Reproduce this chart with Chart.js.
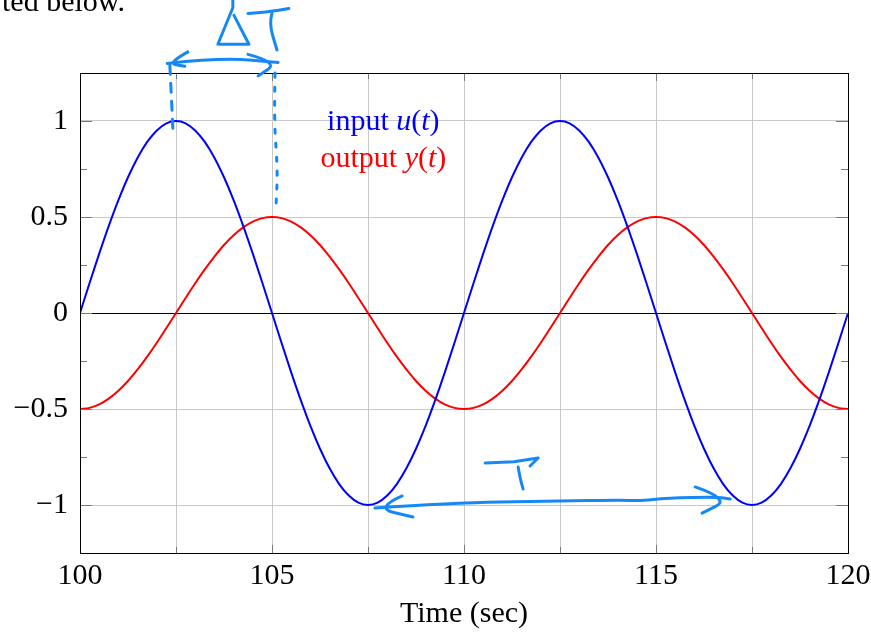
<!DOCTYPE html>
<html>
<head>
<meta charset="utf-8">
<script src="https://cdn.jsdelivr.net/npm/chart.js@4.4.1/dist/chart.umd.min.js"></script>
<style>
  html, body { margin: 0; padding: 0; background: #fff; }
  #wrap { width: 871px; height: 632px; }
</style>
</head>
<body>
<div id="wrap"><canvas id="c" width="871" height="632"></canvas></div>
<script>
// valores (cada 0.25 s)
const time = [100, 100.25, 100.5, 100.75, 101, 101.25, 101.5, 101.75, 102, 102.25,
              102.5, 102.75, 103, 103.25, 103.5, 103.75, 104, 104.25, 104.5, 104.75,
              105, 105.25, 105.5, 105.75, 106, 106.25, 106.5, 106.75, 107, 107.25,
              107.5, 107.75, 108, 108.25, 108.5, 108.75, 109, 109.25, 109.5, 109.75,
              110, 110.25, 110.5, 110.75, 111, 111.25, 111.5, 111.75, 112, 112.25,
              112.5, 112.75, 113, 113.25, 113.5, 113.75, 114, 114.25, 114.5, 114.75,
              115, 115.25, 115.5, 115.75, 116, 116.25, 116.5, 116.75, 117, 117.25,
              117.5, 117.75, 118, 118.25, 118.5, 118.75, 119, 119.25, 119.5, 119.75, 120];
const inputU = [0, 0.156, 0.309, 0.454, 0.588, 0.707, 0.809, 0.891, 0.951, 0.988,
                1, 0.988, 0.951, 0.891, 0.809, 0.707, 0.588, 0.454, 0.309, 0.156,
                0, -0.156, -0.309, -0.454, -0.588, -0.707, -0.809, -0.891, -0.951, -0.988,
                -1, -0.988, -0.951, -0.891, -0.809, -0.707, -0.588, -0.454, -0.309, -0.156,
                0, 0.156, 0.309, 0.454, 0.588, 0.707, 0.809, 0.891, 0.951, 0.988,
                1, 0.988, 0.951, 0.891, 0.809, 0.707, 0.588, 0.454, 0.309, 0.156,
                0, -0.156, -0.309, -0.454, -0.588, -0.707, -0.809, -0.891, -0.951, -0.988,
                -1, -0.988, -0.951, -0.891, -0.809, -0.707, -0.588, -0.454, -0.309, -0.156, 0];
const outputY = [-0.5, -0.494, -0.476, -0.446, -0.405, -0.354, -0.294, -0.227, -0.155, -0.078,
                 0, 0.078, 0.155, 0.227, 0.294, 0.354, 0.405, 0.446, 0.476, 0.494,
                 0.5, 0.494, 0.476, 0.446, 0.405, 0.354, 0.294, 0.227, 0.155, 0.078,
                 0, -0.078, -0.155, -0.227, -0.294, -0.354, -0.405, -0.446, -0.476, -0.494,
                 -0.5, -0.494, -0.476, -0.446, -0.405, -0.354, -0.294, -0.227, -0.155, -0.078,
                 0, 0.078, 0.155, 0.227, 0.294, 0.354, 0.405, 0.446, 0.476, 0.494,
                 0.5, 0.494, 0.476, 0.446, 0.405, 0.354, 0.294, 0.227, 0.155, 0.078,
                 0, -0.078, -0.155, -0.227, -0.294, -0.354, -0.405, -0.446, -0.476, -0.494, -0.5];
const xTickLabels = [100, 105, 110, 115, 120];
const yTickLabels = [-1, -0.5, 0, 0.5, 1];

// trazos a mano (en coordenadas de datos: tiempo, valor)
const handStrokes = [
  // flecha doble arriba (ΔT)
  { pts: [[102.27, 1.3], [103.65, 1.33], [105.16, 1.305]] },
  { pts: [[102.81, 1.36], [102.27, 1.3], [102.73, 1.285]] },
  { pts: [[104.375, 1.347], [105.16, 1.305], [104.64, 1.235]] },
  { pts: [[102.34, 1.29], [102.42, 0.953]], dash: [9, 9] },
  { pts: [[105.08, 1.25], [105.05, 1.0], [105.15, 0.75], [105.1, 0.536]], dash: [4, 10] },
  // Δ
  { pts: [[103.98, 1.63], [103.98, 1.59], [103.59, 1.4], [104.40, 1.4], [104.01, 1.55]], sharp: true },
  // T arriba
  { pts: [[104.375, 1.56], [104.9, 1.568], [105.44, 1.586]] },
  { pts: [[105.0, 1.56], [104.92, 1.51], [105.13, 1.37]] },
  // T abajo
  { pts: [[110.55, -0.781], [111.3, -0.775], [111.93, -0.755], [111.72, -0.797]], sharp: true },
  { pts: [[111.41, -0.802], [111.46, -0.86], [111.54, -0.917]] },
  // flecha doble abajo (T)
  { pts: [[107.68, -1.016], [109.64, -0.99], [112.24, -0.979], [114.24, -0.974],
          [114.58, -0.979], [115.29, -0.964], [116.59, -0.958], [116.93, -0.969]] },
  { pts: [[108.39, -0.953], [107.68, -1.016], [108.67, -1.0625]] },
  { pts: [[116.02, -0.906], [116.93, -0.969], [116.2, -1.042]] }
];

const serif = "'Liberation Serif', 'DejaVu Serif', serif";
const fontSize = 30;

function isOn(v, step) {
  return Math.abs(v / step - Math.round(v / step)) < 1e-6;
}

const pgfFrame = {
  id: 'pgfFrame',
  afterDraw(chart) {
    const { ctx, chartArea: a, scales: { x, y } } = chart;
    ctx.save();
    // marcas internas
    ctx.strokeStyle = '#7a7a7a';
    ctx.lineWidth = 1;
    x.ticks.forEach(t => {
      const px = Math.round(x.getPixelForValue(t.value)) + 0.5;
      const len = isOn(t.value, 5) ? 8 : 6;
      ctx.beginPath();
      ctx.moveTo(px, a.bottom); ctx.lineTo(px, a.bottom - len);
      ctx.moveTo(px, a.top); ctx.lineTo(px, a.top + len);
      ctx.stroke();
    });
    y.ticks.forEach(t => {
      const py = Math.round(y.getPixelForValue(t.value)) + 0.5;
      const len = isOn(t.value, 0.5) ? 12 : 7;
      ctx.beginPath();
      ctx.moveTo(a.left, py); ctx.lineTo(a.left + len, py);
      ctx.moveTo(a.right, py); ctx.lineTo(a.right - len, py);
      ctx.stroke();
    });
    // marco
    ctx.strokeStyle = '#000';
    ctx.strokeRect(Math.round(a.left) + 0.5, Math.round(a.top) + 0.5,
                   Math.round(a.right - a.left), Math.round(a.bottom - a.top));

    // leyenda sin caja
    const drawParts = (parts, cx, baseline, color) => {
      let w = 0;
      parts.forEach(p => {
        ctx.font = (p[1] ? 'italic ' : '') + fontSize + 'px ' + serif;
        w += ctx.measureText(p[0]).width;
      });
      let px = cx - w / 2;
      ctx.fillStyle = color;
      ctx.textBaseline = 'alphabetic';
      ctx.textAlign = 'left';
      parts.forEach(p => {
        ctx.font = (p[1] ? 'italic ' : '') + fontSize + 'px ' + serif;
        ctx.fillText(p[0], px, baseline);
        px += ctx.measureText(p[0]).width;
      });
    };
    const lx = x.getPixelForValue(107.9);
    drawParts([['input ', false], ['u', true], ['(', false], ['t', true], [')', false]],
              lx, y.getPixelForValue(0.955), '#0000ff');
    drawParts([['output ', false], ['y', true], ['(', false], ['t', true], [')', false]],
              lx, y.getPixelForValue(0.76), '#ff0000');

    // texto del documento cortado arriba
    ctx.fillStyle = '#000';
    ctx.font = fontSize + 'px ' + serif;
    ctx.fillText('ted below.', 2, 11);

    // anotaciones a mano
    ctx.strokeStyle = 'rgb(22, 136, 245)';
    ctx.lineWidth = 3;
    ctx.lineCap = 'round';
    ctx.lineJoin = 'round';
    handStrokes.forEach(s => {
      const p = s.pts.map(q => [x.getPixelForValue(q[0]), y.getPixelForValue(q[1])]);
      ctx.setLineDash(s.dash || []);
      ctx.beginPath();
      ctx.moveTo(p[0][0], p[0][1]);
      if (s.sharp || p.length < 3) {
        for (let i = 1; i < p.length; i++) ctx.lineTo(p[i][0], p[i][1]);
      } else {
        for (let i = 1; i < p.length - 1; i++) {
          const mx = (p[i][0] + p[i + 1][0]) / 2, my = (p[i][1] + p[i + 1][1]) / 2;
          ctx.quadraticCurveTo(p[i][0], p[i][1], mx, my);
        }
        const l = p[p.length - 1];
        ctx.lineTo(l[0], l[1]);
      }
      ctx.stroke();
    });
    ctx.restore();
  }
};

const ctx = document.getElementById('c').getContext('2d');
new Chart(ctx, {
  type: 'line',
  data: {
    datasets: [
      {
        label: 'input u(t)',
        data: time.map((t, i) => ({ x: t, y: inputU[i] })),
        borderColor: '#0000ff',
        borderWidth: 2,
        pointRadius: 0,
        tension: 0.3
      },
      {
        label: 'output y(t)',
        data: time.map((t, i) => ({ x: t, y: outputY[i] })),
        borderColor: '#ff0000',
        borderWidth: 2,
        pointRadius: 0,
        tension: 0.3
      }
    ]
  },
  options: {
    responsive: false,
    animation: false,
    devicePixelRatio: 1,
    layout: { padding: { top: 73, right: 23, left: 0, bottom: 0 } },
    plugins: { legend: { display: false }, tooltip: { enabled: false } },
    scales: {
      x: {
        type: 'linear',
        min: 100,
        max: 120,
        afterFit: s => { s.height = 79; s.paddingLeft = 0; s.paddingRight = 0; },
        ticks: {
          stepSize: 2.5,
          autoSkip: false,
          maxRotation: 0,
          padding: 5,
          color: '#000',
          font: { family: serif, size: fontSize },
          callback: v => xTickLabels.includes(v) ? String(v) : ''
        },
        grid: {
          drawTicks: false,
          color: c => (c.tick && (c.tick.value === 100 || c.tick.value === 120)) ? 'rgba(0,0,0,0)' : '#c8c8c8'
        },
        border: { color: '#000' },
        title: {
          display: true,
          text: 'Time (sec)',
          color: '#000',
          font: { family: serif, size: fontSize },
          padding: { top: 0, bottom: 0 }
        }
      },
      y: {
        min: -1.25,
        max: 1.25,
        afterFit: s => { s.width = 80; s.paddingTop = 0; s.paddingBottom = 0; },
        ticks: {
          stepSize: 0.25,
          autoSkip: false,
          padding: 12,
          color: '#000',
          font: { family: serif, size: fontSize },
          callback: v => {
            const hit = yTickLabels.find(l => Math.abs(l - v) < 1e-6);
            if (hit === undefined) return '';
            return hit < 0 ? '\u2212' + Math.abs(hit) : String(hit);
          }
        },
        grid: {
          drawTicks: false,
          color: c => {
            if (!c.tick) return 'rgba(0,0,0,0)';
            const v = c.tick.value;
            if (Math.abs(v) < 1e-6) return '#000';
            if (Math.abs(Math.abs(v) - 1.25) < 1e-6) return 'rgba(0,0,0,0)';
            return isOn(v, 0.5) ? '#c8c8c8' : 'rgba(0,0,0,0)';
          }
        },
        border: { color: '#000' }
      }
    }
  },
  plugins: [pgfFrame]
});
</script>
</body>
</html>
